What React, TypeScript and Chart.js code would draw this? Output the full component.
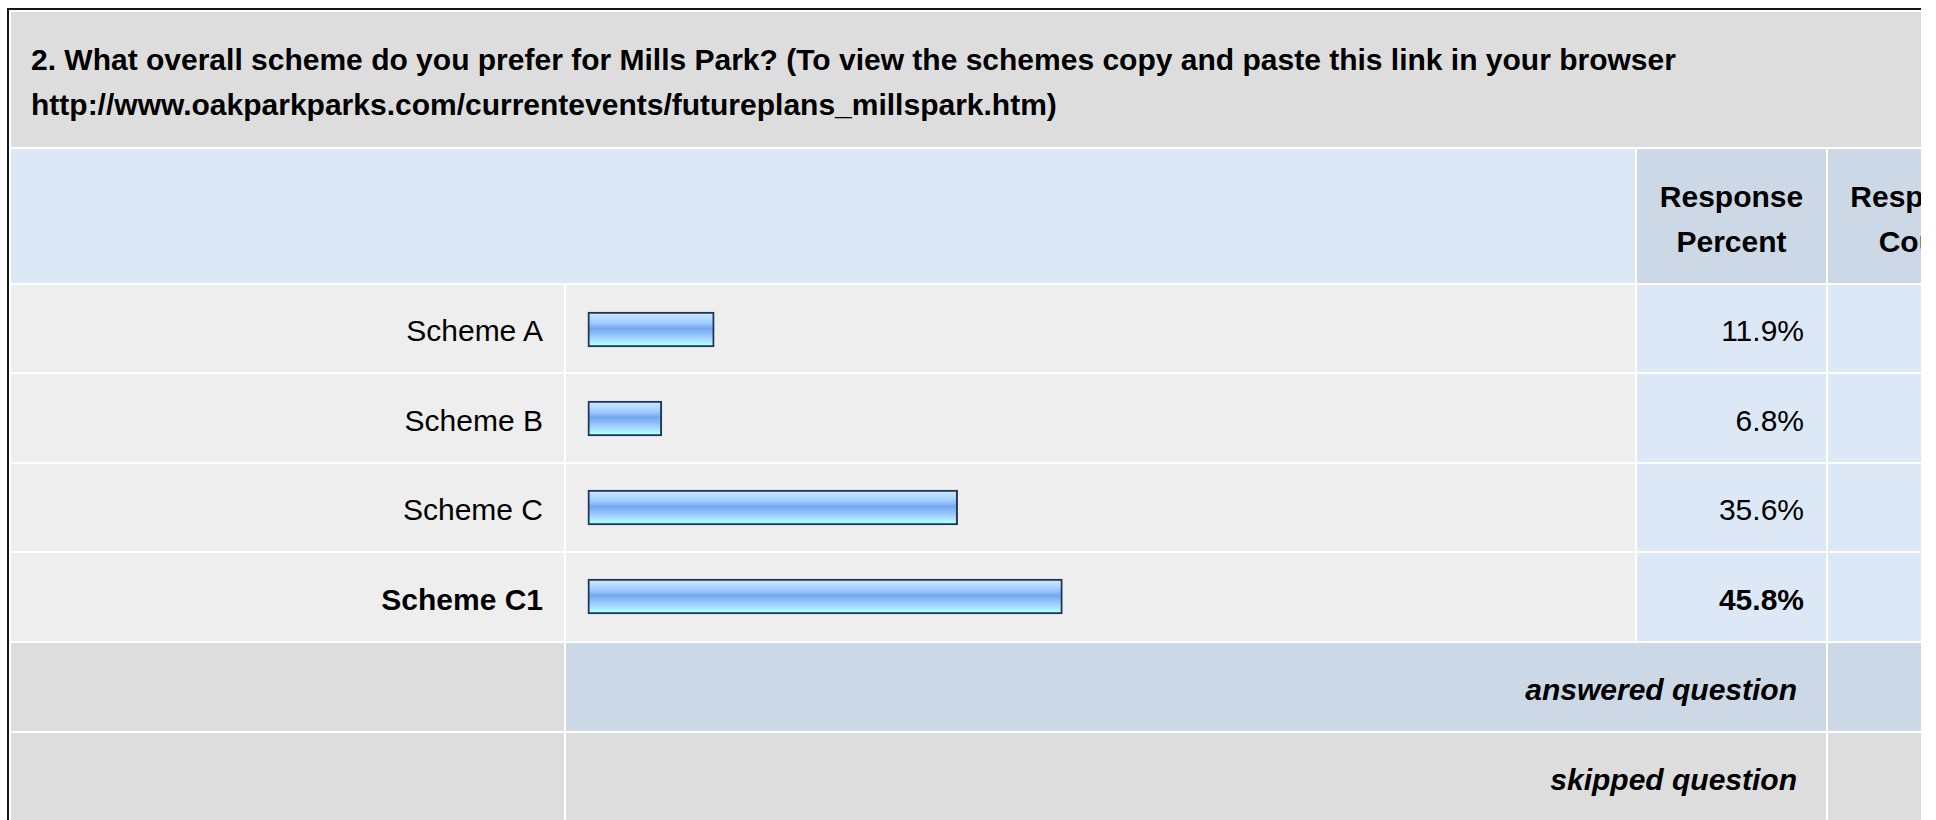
import React, { useEffect, useRef } from 'react';
import { Chart, registerables } from 'chart.js';

Chart.register(...registerables);

// ---------- data ----------
const TITLE_LINES = [
  '2. What overall scheme do you prefer for Mills Park? (To view the schemes copy and paste this link in your browser',
  'http://www.oakparkparks.com/currentevents/futureplans_millspark.htm)',
];
const CATEGORIES = ['Scheme A', 'Scheme B', 'Scheme C', 'Scheme C1'];
const RESPONSE_PERCENT = [11.9, 6.8, 35.6, 45.8];
const PERCENT_HEADER = ['Response', 'Percent'];
const COUNT_HEADER = ['Response', 'Count'];
const FOOTER_LABELS = ['answered question', 'skipped question'];
const AXIS_MIN = 0;
const AXIS_MAX = 100;

// ---------- style / layout ----------
const FONT = "'Liberation Sans', Arial, Helvetica, sans-serif";
const C = {
  border: '#151515',
  title: '#dddddd',
  headLight: '#dce8f6',
  headDark: '#ccd8e6',
  row: '#eeeeee',
  rowPct: '#dce8f6',
  footGray: '#dddddd',
  footBlue: '#ccd8e6',
  barBorder: '#1d3557',
};
const COLS = {
  label: [11, 564],
  bar: [566, 1635],
  pct: [1637, 1826],
  cnt: [1828, 2016],
};
const ROWS = {
  title: [12, 147],
  header: [149, 283],
  data: [
    [285, 372],
    [374, 462],
    [464, 551],
    [553, 641],
  ],
  foot: [
    [643, 731],
    [733, 822],
  ],
};

type CellProps = {
  x: number[];
  y: number[];
  bg: string;
  style?: React.CSSProperties;
  children?: React.ReactNode;
};

function Cell({ x, y, bg, style, children }: CellProps) {
  return (
    <div
      style={{
        position: 'absolute',
        left: x[0],
        top: y[0],
        width: x[1] - x[0],
        height: y[1] - y[0],
        background: bg,
        boxSizing: 'border-box',
        overflow: 'hidden',
        ...style,
      }}
    >
      {children}
    </div>
  );
}

const singleLine = (align: 'flex-end' | 'center', padRight: number): React.CSSProperties => ({
  display: 'flex',
  alignItems: 'center',
  justifyContent: align,
  paddingRight: padRight,
  paddingTop: 5,
  fontSize: 30,
  lineHeight: '34px',
  whiteSpace: 'nowrap',
  color: '#000',
});

function BarChart() {
  const ref = useRef<HTMLCanvasElement | null>(null);
  useEffect(() => {
    if (!ref.current) return;
    const gradient = (c: any) => {
      const chart = c.chart;
      const ys = chart.scales && chart.scales.y;
      if (!ys || c.dataIndex === undefined) return '#8cbcf8';
      const yc = ys.getPixelForValue(c.dataIndex);
      if (!Number.isFinite(yc)) return '#8cbcf8';
      const g = chart.ctx.createLinearGradient(0, yc - 17.5, 0, yc + 17.5);
      g.addColorStop(0, '#d4ebff');
      g.addColorStop(0.18, '#b4daff');
      g.addColorStop(0.32, '#9ccaff');
      g.addColorStop(0.47, '#74a7ef');
      g.addColorStop(0.6, '#8abaf8');
      g.addColorStop(0.72, '#a0d0ff');
      g.addColorStop(0.82, '#a8e4ff');
      g.addColorStop(0.9, '#aefaff');
      g.addColorStop(1, '#b4ffff');
      return g;
    };
    const chart = new Chart(ref.current, {
      type: 'bar',
      data: {
        labels: CATEGORIES,
        datasets: [
          {
            data: RESPONSE_PERCENT,
            base: -0.4,
            backgroundColor: gradient,
            borderColor: C.barBorder,
            borderWidth: 2,
            borderSkipped: false,
            barThickness: 35,
            clip: false,
          } as any,
        ],
      },
      options: {
        indexAxis: 'y',
        animation: false,
        responsive: true,
        maintainAspectRatio: false,
        events: [],
        layout: { padding: { left: 26, right: 16, top: 0, bottom: 0 } },
        plugins: {
          legend: { display: false },
          tooltip: { enabled: false },
          title: { display: false },
        },
        scales: {
          x: { display: false, min: AXIS_MIN, max: AXIS_MAX },
          y: { display: false },
        },
      },
    });
    chart.update();
    return () => chart.destroy();
  }, []);
  const x = COLS.bar;
  const y0 = ROWS.data[0][0];
  const y1 = ROWS.data[ROWS.data.length - 1][1];
  return (
    <div
      style={{
        position: 'absolute',
        left: x[0],
        top: y0,
        width: x[1] - x[0],
        height: y1 - y0,
      }}
    >
      <canvas ref={ref} />
    </div>
  );
}

export default function App() {
  const maxIdx = RESPONSE_PERCENT.indexOf(Math.max(...RESPONSE_PERCENT));
  return (
    <div
      style={{
        position: 'fixed',
        left: 0,
        top: 0,
        width: 1921,
        height: 820,
        overflow: 'hidden',
        background: '#fff',
        fontFamily: FONT,
      }}
    >
      {/* outer border */}
      <div
        style={{
          position: 'absolute',
          left: 7,
          top: 8,
          width: 2100,
          height: 900,
          borderLeft: `2px solid ${C.border}`,
          borderTop: `2px solid ${C.border}`,
          background: '#fff',
        }}
      />
      {/* title */}
      <Cell
        x={[COLS.label[0], COLS.cnt[1]]}
        y={ROWS.title}
        bg={C.title}
        style={{
          paddingTop: 25,
          paddingLeft: 20,
          fontSize: 30,
          lineHeight: '45px',
          fontWeight: 'bold',
          whiteSpace: 'nowrap',
          color: '#000',
        }}
      >
        {TITLE_LINES.map((t, i) => (
          <div key={i}>{t}</div>
        ))}
      </Cell>
      {/* header */}
      <Cell x={[COLS.label[0], COLS.bar[1]]} y={ROWS.header} bg={C.headLight} />
      {[
        { col: COLS.pct, lines: PERCENT_HEADER },
        { col: COLS.cnt, lines: COUNT_HEADER },
      ].map((h, i) => (
        <Cell
          key={i}
          x={h.col}
          y={ROWS.header}
          bg={C.headDark}
          style={{
            paddingTop: 25,
            textAlign: 'center',
            fontSize: 30,
            lineHeight: '45px',
            fontWeight: 'bold',
            whiteSpace: 'nowrap',
            color: '#000',
          }}
        >
          {h.lines.map((t, j) => (
            <div key={j}>{t}</div>
          ))}
        </Cell>
      ))}
      {/* data rows */}
      {CATEGORIES.map((cat, i) => {
        const y = ROWS.data[i];
        const bold = i === maxIdx ? 'bold' : 'normal';
        return (
          <React.Fragment key={cat}>
            <Cell x={COLS.label} y={y} bg={C.row} style={{ ...singleLine('flex-end', 21), fontWeight: bold }}>
              {cat}
            </Cell>
            <Cell x={COLS.bar} y={y} bg={C.row} />
            <Cell x={COLS.pct} y={y} bg={C.rowPct} style={{ ...singleLine('flex-end', 22), fontWeight: bold }}>
              {RESPONSE_PERCENT[i].toFixed(1) + '%'}
            </Cell>
            <Cell x={COLS.cnt} y={y} bg={C.rowPct} />
          </React.Fragment>
        );
      })}
      {/* footer rows */}
      {FOOTER_LABELS.map((lab, i) => {
        const y = ROWS.foot[i];
        const bg = i === 0 ? C.footBlue : C.footGray;
        return (
          <React.Fragment key={lab}>
            <Cell x={COLS.label} y={y} bg={C.footGray} />
            <Cell
              x={[COLS.bar[0], COLS.pct[1]]}
              y={y}
              bg={bg}
              style={{ ...singleLine('flex-end', 29), fontWeight: 'bold', fontStyle: 'italic' }}
            >
              {lab}
            </Cell>
            <Cell x={COLS.cnt} y={y} bg={bg} />
          </React.Fragment>
        );
      })}
      <BarChart />
    </div>
  );
}
